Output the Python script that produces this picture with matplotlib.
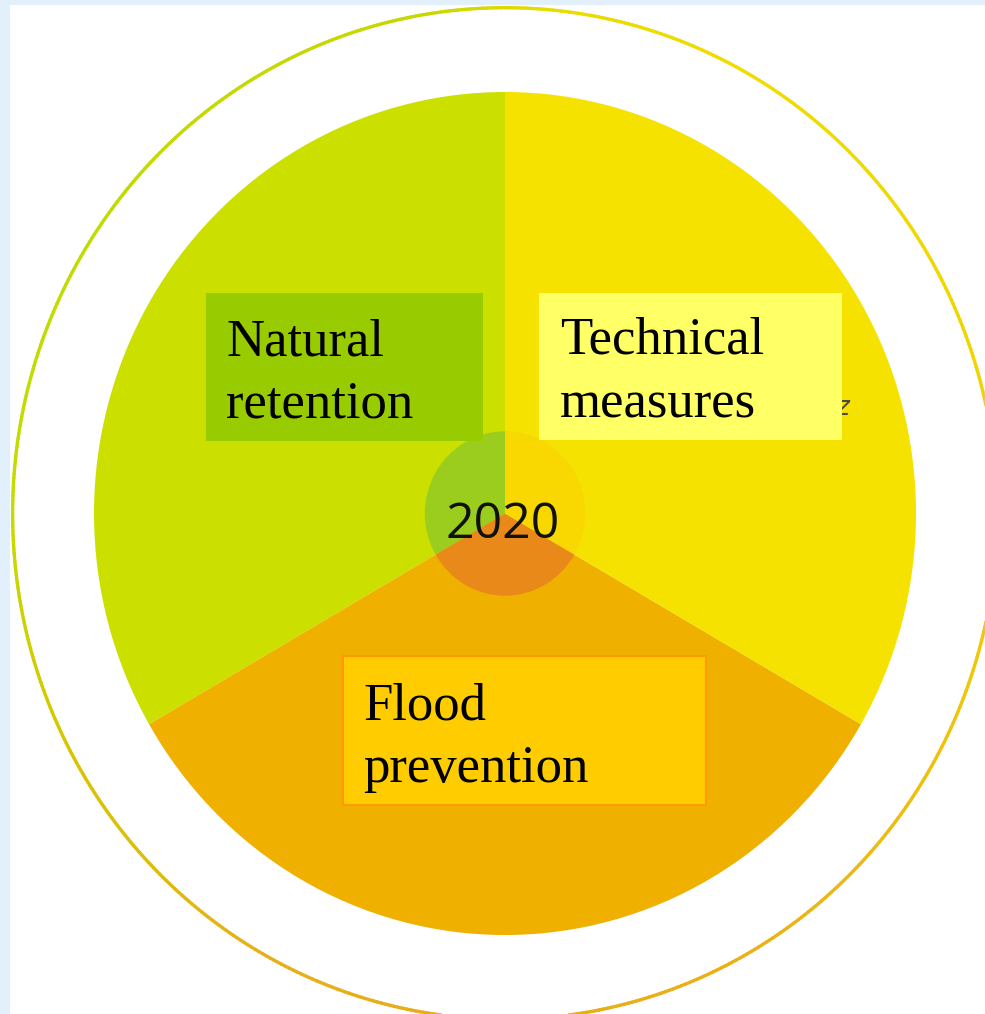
import numpy as np
import matplotlib
matplotlib.use("Agg")
import matplotlib.pyplot as plt
from matplotlib.patches import Rectangle
from matplotlib.collections import LineCollection
from matplotlib.colors import to_rgb

# ---- data ----
categories = ["Natural retention", "Flood prevention", "Technical measures"]
shares = [1, 1, 1]
slice_colors = ["#cce000", "#efb000", "#f6e200"]
center_colors = ["#9acd1e", "#e8891a", "#f8d800"]
box_colors = {"Natural retention": "#99cc00",
              "Technical measures": "#ffff66",
              "Flood prevention": "#ffcc00"}
year_label = "2020"

W, H = 985, 1014
DPI = 100
fig = plt.figure(figsize=(W / DPI, H / DPI), dpi=DPI)
fig.patch.set_facecolor("#e2f0fb")
# white page area
fig.patches.append(Rectangle((10 / W, 0), 1, 1 - 5 / H, transform=fig.transFigure,
                             facecolor="white", edgecolor="none", zorder=-5))

# ---- pie axes (data units: 1 = pie radius, slightly elliptical) ----
cx, cy, rx, ry = 505, 513.5, 411, 421.5
ax = fig.add_axes([0, 0, 1, 1])
ax.set_zorder(1)
ax.pie(shares, colors=slice_colors, startangle=90, counterclock=True,
       radius=1.0, wedgeprops=dict(linewidth=0))
ax.pie(shares, colors=center_colors, startangle=90, counterclock=True,
       radius=0.195, wedgeprops=dict(linewidth=0))
ax.set_aspect("auto")
ax.set_xlim(-cx / rx, (W - cx) / rx)
ax.set_ylim((cy - H) / ry, cy / ry)
ax.axis("off")

# outer ring with gradient colour
ring_keys = [(-180, "#c4dc00"), (-150, "#d8c400"), (-120, "#e8b018"), (-90, "#e8ac18"),
             (-60, "#e9b218"), (-20, "#efc60a"), (20, "#f0d600"), (60, "#f0dc00"),
             (85, "#e8dc00"), (100, "#c6d800"), (150, "#c0dc00"), (180, "#c4dc00")]
ka = np.array([k[0] for k in ring_keys], dtype=float)
kc = np.array([to_rgb(k[1]) for k in ring_keys])
ang = np.linspace(-180, 180, 721)
xs = 1.198 * np.cos(np.radians(ang))
ys = 1.2 * np.sin(np.radians(ang))
pts = np.column_stack([xs, ys]).reshape(-1, 1, 2)
segs = np.concatenate([pts[:-1], pts[1:]], axis=1)
mid = (ang[:-1] + ang[1:]) / 2
cols = np.column_stack([np.interp(mid, ka, kc[:, i]) for i in range(3)])
lc = LineCollection(segs, colors=cols, linewidths=2.4, capstyle="round")
ax.add_collection(lc)

# ---- overlay axes in pixel coordinates ----
ov = fig.add_axes([0, 0, 1, 1])
ov.set_zorder(2)
ov.set_xlim(0, W)
ov.set_ylim(H, 0)
ov.axis("off")

serif = ["Liberation Serif", "DejaVu Serif"]

# small partly hidden glyph near the technical box
ov.text(835, 415, "z", fontsize=19, color="#4a4a4a", family=["DejaVu Sans"],
        style="italic", va="baseline", ha="left", zorder=1)

boxes = {
    "Natural retention": (206, 293, 483, 441, (226, 355, 418), "none"),
    "Technical measures": (539, 293, 842, 440, (560, 354, 418), "none"),
    "Flood prevention": (343, 656, 706, 805, (363, 719, 782), "#ff9900"),
}
for name in categories:
    x0, y0, x1, y1, (tx, b1, b2), ec = boxes[name]
    ov.add_patch(Rectangle((x0, y0), x1 - x0, y1 - y0, facecolor=box_colors[name],
                           edgecolor=ec, linewidth=1.5 if ec != "none" else 0, zorder=2))
    w1, w2 = name.split(" ")
    ov.text(tx, b1, w1, fontsize=38, family=serif, color="black",
            va="baseline", ha="left", zorder=3)
    ov.text(tx, b2, w2, fontsize=38, family=serif, color="black",
            va="baseline", ha="left", zorder=3)

ov.text(503, 538, year_label, fontsize=36, family=["Open Sans", "DejaVu Sans"],
        color="#111111", va="baseline", ha="center", zorder=3)

fig.savefig("out.png", dpi=DPI, facecolor=fig.get_facecolor())
